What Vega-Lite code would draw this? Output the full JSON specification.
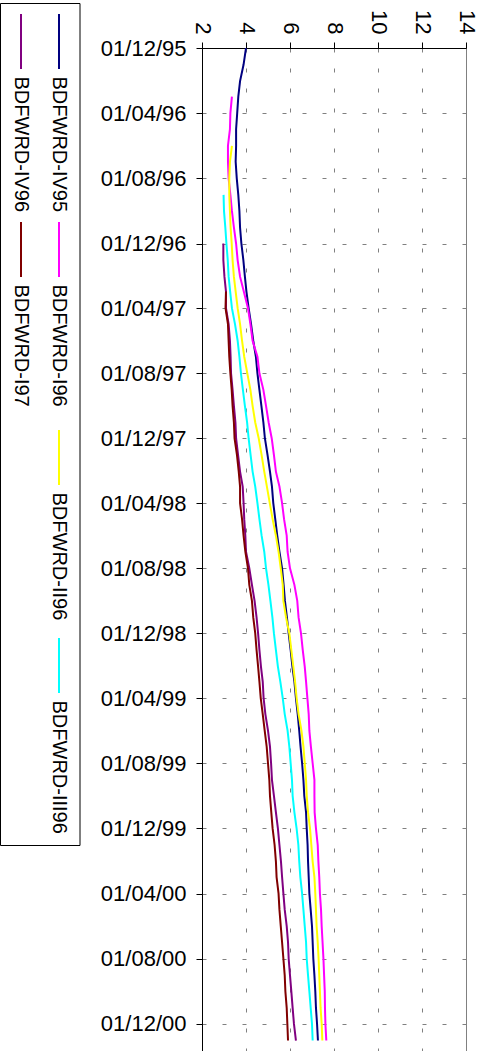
{
  "$schema": "https://vega.github.io/schema/vega-lite/v6.json",
  "padding": {"left": 0, "top": 3, "right": 0, "bottom": 0},
  "background": "white",
  "config": {"font": "Liberation Sans", "view": {"stroke": null}},
  "datasets": {
    "legend": [
      {"series": "BDFWRD-IV95"}, {"series": "BDFWRD-I96"}, {"series": "BDFWRD-II96"},
      {"series": "BDFWRD-III96"}, {"series": "BDFWRD-IV96"}, {"series": "BDFWRD-I97"}
    ],
    "rates": [
      {"series":"BDFWRD-IV95","date":"1995-12-01","value":4.0},
      {"series":"BDFWRD-IV95","date":"1996-01-01","value":3.89},
      {"series":"BDFWRD-IV95","date":"1996-02-01","value":3.73},
      {"series":"BDFWRD-IV95","date":"1996-03-01","value":3.65},
      {"series":"BDFWRD-IV95","date":"1996-04-01","value":3.6},
      {"series":"BDFWRD-IV95","date":"1996-05-01","value":3.55},
      {"series":"BDFWRD-IV95","date":"1996-06-01","value":3.55},
      {"series":"BDFWRD-IV95","date":"1996-07-01","value":3.53},
      {"series":"BDFWRD-IV95","date":"1996-08-01","value":3.58},
      {"series":"BDFWRD-IV95","date":"1996-09-01","value":3.65},
      {"series":"BDFWRD-IV95","date":"1996-10-01","value":3.7},
      {"series":"BDFWRD-IV95","date":"1996-11-01","value":3.73},
      {"series":"BDFWRD-IV95","date":"1996-12-01","value":3.79},
      {"series":"BDFWRD-IV95","date":"1997-01-01","value":3.88},
      {"series":"BDFWRD-IV95","date":"1997-02-01","value":3.95},
      {"series":"BDFWRD-IV95","date":"1997-03-01","value":4.02},
      {"series":"BDFWRD-IV95","date":"1997-04-01","value":4.12},
      {"series":"BDFWRD-IV95","date":"1997-05-01","value":4.23},
      {"series":"BDFWRD-IV95","date":"1997-06-01","value":4.33},
      {"series":"BDFWRD-IV95","date":"1997-07-01","value":4.45},
      {"series":"BDFWRD-IV95","date":"1997-08-01","value":4.52},
      {"series":"BDFWRD-IV95","date":"1997-09-01","value":4.61},
      {"series":"BDFWRD-IV95","date":"1997-10-01","value":4.7},
      {"series":"BDFWRD-IV95","date":"1997-11-01","value":4.79},
      {"series":"BDFWRD-IV95","date":"1997-12-01","value":4.86},
      {"series":"BDFWRD-IV95","date":"1998-01-01","value":4.98},
      {"series":"BDFWRD-IV95","date":"1998-02-01","value":5.09},
      {"series":"BDFWRD-IV95","date":"1998-03-01","value":5.18},
      {"series":"BDFWRD-IV95","date":"1998-04-01","value":5.24},
      {"series":"BDFWRD-IV95","date":"1998-05-01","value":5.33},
      {"series":"BDFWRD-IV95","date":"1998-06-01","value":5.42},
      {"series":"BDFWRD-IV95","date":"1998-07-01","value":5.52},
      {"series":"BDFWRD-IV95","date":"1998-08-01","value":5.64},
      {"series":"BDFWRD-IV95","date":"1998-09-01","value":5.71},
      {"series":"BDFWRD-IV95","date":"1998-10-01","value":5.77},
      {"series":"BDFWRD-IV95","date":"1998-11-01","value":5.86},
      {"series":"BDFWRD-IV95","date":"1998-12-01","value":5.94},
      {"series":"BDFWRD-IV95","date":"1999-01-01","value":6.03},
      {"series":"BDFWRD-IV95","date":"1999-02-01","value":6.11},
      {"series":"BDFWRD-IV95","date":"1999-03-01","value":6.2},
      {"series":"BDFWRD-IV95","date":"1999-04-01","value":6.27},
      {"series":"BDFWRD-IV95","date":"1999-05-01","value":6.35},
      {"series":"BDFWRD-IV95","date":"1999-06-01","value":6.42},
      {"series":"BDFWRD-IV95","date":"1999-07-01","value":6.48},
      {"series":"BDFWRD-IV95","date":"1999-08-01","value":6.55},
      {"series":"BDFWRD-IV95","date":"1999-09-01","value":6.61},
      {"series":"BDFWRD-IV95","date":"1999-10-01","value":6.65},
      {"series":"BDFWRD-IV95","date":"1999-11-01","value":6.73},
      {"series":"BDFWRD-IV95","date":"1999-12-01","value":6.76},
      {"series":"BDFWRD-IV95","date":"2000-01-01","value":6.8},
      {"series":"BDFWRD-IV95","date":"2000-02-01","value":6.82},
      {"series":"BDFWRD-IV95","date":"2000-03-01","value":6.85},
      {"series":"BDFWRD-IV95","date":"2000-04-01","value":6.88},
      {"series":"BDFWRD-IV95","date":"2000-05-01","value":6.94},
      {"series":"BDFWRD-IV95","date":"2000-06-01","value":7.0},
      {"series":"BDFWRD-IV95","date":"2000-07-01","value":7.03},
      {"series":"BDFWRD-IV95","date":"2000-08-01","value":7.06},
      {"series":"BDFWRD-IV95","date":"2000-09-01","value":7.11},
      {"series":"BDFWRD-IV95","date":"2000-10-01","value":7.15},
      {"series":"BDFWRD-IV95","date":"2000-11-01","value":7.18},
      {"series":"BDFWRD-IV95","date":"2000-12-01","value":7.23},
      {"series":"BDFWRD-IV95","date":"2001-01-01","value":7.27},

      {"series":"BDFWRD-I96","date":"1996-03-01","value":3.36},
      {"series":"BDFWRD-I96","date":"1996-04-01","value":3.29},
      {"series":"BDFWRD-I96","date":"1996-05-01","value":3.27},
      {"series":"BDFWRD-I96","date":"1996-06-01","value":3.18},
      {"series":"BDFWRD-I96","date":"1996-07-01","value":3.18},
      {"series":"BDFWRD-I96","date":"1996-08-01","value":3.21},
      {"series":"BDFWRD-I96","date":"1996-09-01","value":3.29},
      {"series":"BDFWRD-I96","date":"1996-10-01","value":3.36},
      {"series":"BDFWRD-I96","date":"1996-11-01","value":3.45},
      {"series":"BDFWRD-I96","date":"1996-12-01","value":3.55},
      {"series":"BDFWRD-I96","date":"1997-01-01","value":3.62},
      {"series":"BDFWRD-I96","date":"1997-02-01","value":3.73},
      {"series":"BDFWRD-I96","date":"1997-03-01","value":3.9},
      {"series":"BDFWRD-I96","date":"1997-04-01","value":4.09},
      {"series":"BDFWRD-I96","date":"1997-05-01","value":4.2},
      {"series":"BDFWRD-I96","date":"1997-06-01","value":4.3},
      {"series":"BDFWRD-I96","date":"1997-07-01","value":4.52},
      {"series":"BDFWRD-I96","date":"1997-08-01","value":4.61},
      {"series":"BDFWRD-I96","date":"1997-09-01","value":4.79},
      {"series":"BDFWRD-I96","date":"1997-10-01","value":4.91},
      {"series":"BDFWRD-I96","date":"1997-11-01","value":5.03},
      {"series":"BDFWRD-I96","date":"1997-12-01","value":5.17},
      {"series":"BDFWRD-I96","date":"1998-01-01","value":5.27},
      {"series":"BDFWRD-I96","date":"1998-02-01","value":5.36},
      {"series":"BDFWRD-I96","date":"1998-03-01","value":5.52},
      {"series":"BDFWRD-I96","date":"1998-04-01","value":5.64},
      {"series":"BDFWRD-I96","date":"1998-05-01","value":5.73},
      {"series":"BDFWRD-I96","date":"1998-06-01","value":5.85},
      {"series":"BDFWRD-I96","date":"1998-07-01","value":5.89},
      {"series":"BDFWRD-I96","date":"1998-08-01","value":6.0},
      {"series":"BDFWRD-I96","date":"1998-09-01","value":6.2},
      {"series":"BDFWRD-I96","date":"1998-10-01","value":6.33},
      {"series":"BDFWRD-I96","date":"1998-11-01","value":6.39},
      {"series":"BDFWRD-I96","date":"1998-12-01","value":6.5},
      {"series":"BDFWRD-I96","date":"1999-01-01","value":6.58},
      {"series":"BDFWRD-I96","date":"1999-02-01","value":6.67},
      {"series":"BDFWRD-I96","date":"1999-03-01","value":6.73},
      {"series":"BDFWRD-I96","date":"1999-04-01","value":6.79},
      {"series":"BDFWRD-I96","date":"1999-05-01","value":6.85},
      {"series":"BDFWRD-I96","date":"1999-06-01","value":6.88},
      {"series":"BDFWRD-I96","date":"1999-07-01","value":6.95},
      {"series":"BDFWRD-I96","date":"1999-08-01","value":7.03},
      {"series":"BDFWRD-I96","date":"1999-09-01","value":7.11},
      {"series":"BDFWRD-I96","date":"1999-10-01","value":7.11},
      {"series":"BDFWRD-I96","date":"1999-11-01","value":7.12},
      {"series":"BDFWRD-I96","date":"1999-12-01","value":7.18},
      {"series":"BDFWRD-I96","date":"2000-01-01","value":7.26},
      {"series":"BDFWRD-I96","date":"2000-02-01","value":7.29},
      {"series":"BDFWRD-I96","date":"2000-03-01","value":7.33},
      {"series":"BDFWRD-I96","date":"2000-04-01","value":7.36},
      {"series":"BDFWRD-I96","date":"2000-05-01","value":7.41},
      {"series":"BDFWRD-I96","date":"2000-06-01","value":7.44},
      {"series":"BDFWRD-I96","date":"2000-07-01","value":7.48},
      {"series":"BDFWRD-I96","date":"2000-08-01","value":7.52},
      {"series":"BDFWRD-I96","date":"2000-09-01","value":7.55},
      {"series":"BDFWRD-I96","date":"2000-10-01","value":7.58},
      {"series":"BDFWRD-I96","date":"2000-11-01","value":7.59},
      {"series":"BDFWRD-I96","date":"2000-12-01","value":7.61},
      {"series":"BDFWRD-I96","date":"2001-01-01","value":7.65},

      {"series":"BDFWRD-II96","date":"1996-06-01","value":3.36},
      {"series":"BDFWRD-II96","date":"1996-07-01","value":3.27},
      {"series":"BDFWRD-II96","date":"1996-08-01","value":3.24},
      {"series":"BDFWRD-II96","date":"1996-09-01","value":3.24},
      {"series":"BDFWRD-II96","date":"1996-10-01","value":3.27},
      {"series":"BDFWRD-II96","date":"1996-11-01","value":3.3},
      {"series":"BDFWRD-II96","date":"1996-12-01","value":3.35},
      {"series":"BDFWRD-II96","date":"1997-01-01","value":3.39},
      {"series":"BDFWRD-II96","date":"1997-02-01","value":3.45},
      {"series":"BDFWRD-II96","date":"1997-03-01","value":3.53},
      {"series":"BDFWRD-II96","date":"1997-04-01","value":3.62},
      {"series":"BDFWRD-II96","date":"1997-05-01","value":3.73},
      {"series":"BDFWRD-II96","date":"1997-06-01","value":3.82},
      {"series":"BDFWRD-II96","date":"1997-07-01","value":3.92},
      {"series":"BDFWRD-II96","date":"1997-08-01","value":4.06},
      {"series":"BDFWRD-II96","date":"1997-09-01","value":4.2},
      {"series":"BDFWRD-II96","date":"1997-10-01","value":4.3},
      {"series":"BDFWRD-II96","date":"1997-11-01","value":4.42},
      {"series":"BDFWRD-II96","date":"1997-12-01","value":4.58},
      {"series":"BDFWRD-II96","date":"1998-01-01","value":4.71},
      {"series":"BDFWRD-II96","date":"1998-02-01","value":4.83},
      {"series":"BDFWRD-II96","date":"1998-03-01","value":4.95},
      {"series":"BDFWRD-II96","date":"1998-04-01","value":5.08},
      {"series":"BDFWRD-II96","date":"1998-05-01","value":5.21},
      {"series":"BDFWRD-II96","date":"1998-06-01","value":5.36},
      {"series":"BDFWRD-II96","date":"1998-07-01","value":5.48},
      {"series":"BDFWRD-II96","date":"1998-08-01","value":5.58},
      {"series":"BDFWRD-II96","date":"1998-09-01","value":5.67},
      {"series":"BDFWRD-II96","date":"1998-10-01","value":5.7},
      {"series":"BDFWRD-II96","date":"1998-11-01","value":5.82},
      {"series":"BDFWRD-II96","date":"1998-12-01","value":5.97},
      {"series":"BDFWRD-II96","date":"1999-01-01","value":6.06},
      {"series":"BDFWRD-II96","date":"1999-02-01","value":6.15},
      {"series":"BDFWRD-II96","date":"1999-03-01","value":6.23},
      {"series":"BDFWRD-II96","date":"1999-04-01","value":6.3},
      {"series":"BDFWRD-II96","date":"1999-05-01","value":6.39},
      {"series":"BDFWRD-II96","date":"1999-06-01","value":6.52},
      {"series":"BDFWRD-II96","date":"1999-07-01","value":6.61},
      {"series":"BDFWRD-II96","date":"1999-08-01","value":6.67},
      {"series":"BDFWRD-II96","date":"1999-09-01","value":6.73},
      {"series":"BDFWRD-II96","date":"1999-10-01","value":6.76},
      {"series":"BDFWRD-II96","date":"1999-11-01","value":6.82},
      {"series":"BDFWRD-II96","date":"1999-12-01","value":6.91},
      {"series":"BDFWRD-II96","date":"2000-01-01","value":6.97},
      {"series":"BDFWRD-II96","date":"2000-02-01","value":7.03},
      {"series":"BDFWRD-II96","date":"2000-03-01","value":7.11},
      {"series":"BDFWRD-II96","date":"2000-04-01","value":7.15},
      {"series":"BDFWRD-II96","date":"2000-05-01","value":7.18},
      {"series":"BDFWRD-II96","date":"2000-06-01","value":7.21},
      {"series":"BDFWRD-II96","date":"2000-07-01","value":7.26},
      {"series":"BDFWRD-II96","date":"2000-08-01","value":7.3},
      {"series":"BDFWRD-II96","date":"2000-09-01","value":7.33},
      {"series":"BDFWRD-II96","date":"2000-10-01","value":7.36},
      {"series":"BDFWRD-II96","date":"2000-11-01","value":7.39},
      {"series":"BDFWRD-II96","date":"2000-12-01","value":7.44},
      {"series":"BDFWRD-II96","date":"2001-01-01","value":7.47},

      {"series":"BDFWRD-III96","date":"1996-09-01","value":2.98},
      {"series":"BDFWRD-III96","date":"1996-10-01","value":3.0},
      {"series":"BDFWRD-III96","date":"1996-11-01","value":3.06},
      {"series":"BDFWRD-III96","date":"1996-12-01","value":3.11},
      {"series":"BDFWRD-III96","date":"1997-01-01","value":3.17},
      {"series":"BDFWRD-III96","date":"1997-02-01","value":3.21},
      {"series":"BDFWRD-III96","date":"1997-03-01","value":3.28},
      {"series":"BDFWRD-III96","date":"1997-04-01","value":3.36},
      {"series":"BDFWRD-III96","date":"1997-05-01","value":3.5},
      {"series":"BDFWRD-III96","date":"1997-06-01","value":3.62},
      {"series":"BDFWRD-III96","date":"1997-07-01","value":3.7},
      {"series":"BDFWRD-III96","date":"1997-08-01","value":3.77},
      {"series":"BDFWRD-III96","date":"1997-09-01","value":3.86},
      {"series":"BDFWRD-III96","date":"1997-10-01","value":3.95},
      {"series":"BDFWRD-III96","date":"1997-11-01","value":4.05},
      {"series":"BDFWRD-III96","date":"1997-12-01","value":4.12},
      {"series":"BDFWRD-III96","date":"1998-01-01","value":4.21},
      {"series":"BDFWRD-III96","date":"1998-02-01","value":4.3},
      {"series":"BDFWRD-III96","date":"1998-03-01","value":4.42},
      {"series":"BDFWRD-III96","date":"1998-04-01","value":4.52},
      {"series":"BDFWRD-III96","date":"1998-05-01","value":4.61},
      {"series":"BDFWRD-III96","date":"1998-06-01","value":4.71},
      {"series":"BDFWRD-III96","date":"1998-07-01","value":4.83},
      {"series":"BDFWRD-III96","date":"1998-08-01","value":4.91},
      {"series":"BDFWRD-III96","date":"1998-09-01","value":5.02},
      {"series":"BDFWRD-III96","date":"1998-10-01","value":5.11},
      {"series":"BDFWRD-III96","date":"1998-11-01","value":5.2},
      {"series":"BDFWRD-III96","date":"1998-12-01","value":5.27},
      {"series":"BDFWRD-III96","date":"1999-01-01","value":5.36},
      {"series":"BDFWRD-III96","date":"1999-02-01","value":5.45},
      {"series":"BDFWRD-III96","date":"1999-03-01","value":5.56},
      {"series":"BDFWRD-III96","date":"1999-04-01","value":5.67},
      {"series":"BDFWRD-III96","date":"1999-05-01","value":5.76},
      {"series":"BDFWRD-III96","date":"1999-06-01","value":5.89},
      {"series":"BDFWRD-III96","date":"1999-07-01","value":5.97},
      {"series":"BDFWRD-III96","date":"1999-08-01","value":6.03},
      {"series":"BDFWRD-III96","date":"1999-09-01","value":6.09},
      {"series":"BDFWRD-III96","date":"1999-10-01","value":6.12},
      {"series":"BDFWRD-III96","date":"1999-11-01","value":6.2},
      {"series":"BDFWRD-III96","date":"1999-12-01","value":6.3},
      {"series":"BDFWRD-III96","date":"2000-01-01","value":6.38},
      {"series":"BDFWRD-III96","date":"2000-02-01","value":6.42},
      {"series":"BDFWRD-III96","date":"2000-03-01","value":6.47},
      {"series":"BDFWRD-III96","date":"2000-04-01","value":6.55},
      {"series":"BDFWRD-III96","date":"2000-05-01","value":6.61},
      {"series":"BDFWRD-III96","date":"2000-06-01","value":6.67},
      {"series":"BDFWRD-III96","date":"2000-07-01","value":6.73},
      {"series":"BDFWRD-III96","date":"2000-08-01","value":6.76},
      {"series":"BDFWRD-III96","date":"2000-09-01","value":6.82},
      {"series":"BDFWRD-III96","date":"2000-10-01","value":6.88},
      {"series":"BDFWRD-III96","date":"2000-11-01","value":6.94},
      {"series":"BDFWRD-III96","date":"2000-12-01","value":7.0},
      {"series":"BDFWRD-III96","date":"2001-01-01","value":7.03},

      {"series":"BDFWRD-IV96","date":"1996-12-01","value":2.97},
      {"series":"BDFWRD-IV96","date":"1997-01-01","value":2.97},
      {"series":"BDFWRD-IV96","date":"1997-02-01","value":3.02},
      {"series":"BDFWRD-IV96","date":"1997-03-01","value":3.09},
      {"series":"BDFWRD-IV96","date":"1997-04-01","value":3.09},
      {"series":"BDFWRD-IV96","date":"1997-05-01","value":3.21},
      {"series":"BDFWRD-IV96","date":"1997-06-01","value":3.27},
      {"series":"BDFWRD-IV96","date":"1997-07-01","value":3.3},
      {"series":"BDFWRD-IV96","date":"1997-08-01","value":3.32},
      {"series":"BDFWRD-IV96","date":"1997-09-01","value":3.39},
      {"series":"BDFWRD-IV96","date":"1997-10-01","value":3.45},
      {"series":"BDFWRD-IV96","date":"1997-11-01","value":3.52},
      {"series":"BDFWRD-IV96","date":"1997-12-01","value":3.55},
      {"series":"BDFWRD-IV96","date":"1998-01-01","value":3.64},
      {"series":"BDFWRD-IV96","date":"1998-02-01","value":3.73},
      {"series":"BDFWRD-IV96","date":"1998-03-01","value":3.85},
      {"series":"BDFWRD-IV96","date":"1998-04-01","value":3.89},
      {"series":"BDFWRD-IV96","date":"1998-05-01","value":3.92},
      {"series":"BDFWRD-IV96","date":"1998-06-01","value":3.97},
      {"series":"BDFWRD-IV96","date":"1998-07-01","value":4.0},
      {"series":"BDFWRD-IV96","date":"1998-08-01","value":4.15},
      {"series":"BDFWRD-IV96","date":"1998-09-01","value":4.27},
      {"series":"BDFWRD-IV96","date":"1998-10-01","value":4.39},
      {"series":"BDFWRD-IV96","date":"1998-11-01","value":4.48},
      {"series":"BDFWRD-IV96","date":"1998-12-01","value":4.55},
      {"series":"BDFWRD-IV96","date":"1999-01-01","value":4.61},
      {"series":"BDFWRD-IV96","date":"1999-02-01","value":4.68},
      {"series":"BDFWRD-IV96","date":"1999-03-01","value":4.76},
      {"series":"BDFWRD-IV96","date":"1999-04-01","value":4.8},
      {"series":"BDFWRD-IV96","date":"1999-05-01","value":4.88},
      {"series":"BDFWRD-IV96","date":"1999-06-01","value":5.0},
      {"series":"BDFWRD-IV96","date":"1999-07-01","value":5.09},
      {"series":"BDFWRD-IV96","date":"1999-08-01","value":5.14},
      {"series":"BDFWRD-IV96","date":"1999-09-01","value":5.18},
      {"series":"BDFWRD-IV96","date":"1999-10-01","value":5.27},
      {"series":"BDFWRD-IV96","date":"1999-11-01","value":5.36},
      {"series":"BDFWRD-IV96","date":"1999-12-01","value":5.45},
      {"series":"BDFWRD-IV96","date":"2000-01-01","value":5.52},
      {"series":"BDFWRD-IV96","date":"2000-02-01","value":5.59},
      {"series":"BDFWRD-IV96","date":"2000-03-01","value":5.64},
      {"series":"BDFWRD-IV96","date":"2000-04-01","value":5.7},
      {"series":"BDFWRD-IV96","date":"2000-05-01","value":5.76},
      {"series":"BDFWRD-IV96","date":"2000-06-01","value":5.85},
      {"series":"BDFWRD-IV96","date":"2000-07-01","value":5.91},
      {"series":"BDFWRD-IV96","date":"2000-08-01","value":5.94},
      {"series":"BDFWRD-IV96","date":"2000-09-01","value":6.0},
      {"series":"BDFWRD-IV96","date":"2000-10-01","value":6.06},
      {"series":"BDFWRD-IV96","date":"2000-11-01","value":6.12},
      {"series":"BDFWRD-IV96","date":"2000-12-01","value":6.18},
      {"series":"BDFWRD-IV96","date":"2001-01-01","value":6.27},

      {"series":"BDFWRD-I97","date":"1997-03-01","value":3.09},
      {"series":"BDFWRD-I97","date":"1997-04-01","value":3.07},
      {"series":"BDFWRD-I97","date":"1997-05-01","value":3.18},
      {"series":"BDFWRD-I97","date":"1997-06-01","value":3.21},
      {"series":"BDFWRD-I97","date":"1997-07-01","value":3.24},
      {"series":"BDFWRD-I97","date":"1997-08-01","value":3.29},
      {"series":"BDFWRD-I97","date":"1997-09-01","value":3.35},
      {"series":"BDFWRD-I97","date":"1997-10-01","value":3.39},
      {"series":"BDFWRD-I97","date":"1997-11-01","value":3.45},
      {"series":"BDFWRD-I97","date":"1997-12-01","value":3.48},
      {"series":"BDFWRD-I97","date":"1998-01-01","value":3.59},
      {"series":"BDFWRD-I97","date":"1998-02-01","value":3.67},
      {"series":"BDFWRD-I97","date":"1998-03-01","value":3.73},
      {"series":"BDFWRD-I97","date":"1998-04-01","value":3.73},
      {"series":"BDFWRD-I97","date":"1998-05-01","value":3.82},
      {"series":"BDFWRD-I97","date":"1998-06-01","value":3.89},
      {"series":"BDFWRD-I97","date":"1998-07-01","value":3.97},
      {"series":"BDFWRD-I97","date":"1998-08-01","value":4.09},
      {"series":"BDFWRD-I97","date":"1998-09-01","value":4.15},
      {"series":"BDFWRD-I97","date":"1998-10-01","value":4.27},
      {"series":"BDFWRD-I97","date":"1998-11-01","value":4.33},
      {"series":"BDFWRD-I97","date":"1998-12-01","value":4.42},
      {"series":"BDFWRD-I97","date":"1999-01-01","value":4.48},
      {"series":"BDFWRD-I97","date":"1999-02-01","value":4.55},
      {"series":"BDFWRD-I97","date":"1999-03-01","value":4.61},
      {"series":"BDFWRD-I97","date":"1999-04-01","value":4.67},
      {"series":"BDFWRD-I97","date":"1999-05-01","value":4.76},
      {"series":"BDFWRD-I97","date":"1999-06-01","value":4.85},
      {"series":"BDFWRD-I97","date":"1999-07-01","value":4.94},
      {"series":"BDFWRD-I97","date":"1999-08-01","value":5.0},
      {"series":"BDFWRD-I97","date":"1999-09-01","value":5.06},
      {"series":"BDFWRD-I97","date":"1999-10-01","value":5.09},
      {"series":"BDFWRD-I97","date":"1999-11-01","value":5.15},
      {"series":"BDFWRD-I97","date":"1999-12-01","value":5.21},
      {"series":"BDFWRD-I97","date":"2000-01-01","value":5.3},
      {"series":"BDFWRD-I97","date":"2000-02-01","value":5.36},
      {"series":"BDFWRD-I97","date":"2000-03-01","value":5.39},
      {"series":"BDFWRD-I97","date":"2000-04-01","value":5.48},
      {"series":"BDFWRD-I97","date":"2000-05-01","value":5.52},
      {"series":"BDFWRD-I97","date":"2000-06-01","value":5.58},
      {"series":"BDFWRD-I97","date":"2000-07-01","value":5.64},
      {"series":"BDFWRD-I97","date":"2000-08-01","value":5.7},
      {"series":"BDFWRD-I97","date":"2000-09-01","value":5.76},
      {"series":"BDFWRD-I97","date":"2000-10-01","value":5.79},
      {"series":"BDFWRD-I97","date":"2000-11-01","value":5.85},
      {"series":"BDFWRD-I97","date":"2000-12-01","value":5.88},
      {"series":"BDFWRD-I97","date":"2001-01-01","value":5.91}
    ]
  },
  "spacing": 18,
  "hconcat": [
    {
      "width": 80,
      "height": 797,
      "data": {"name": "legend"},
      "layer": [
        {
          "data": {"values": [{"frame": "legend"}]},
          "mark": {"type": "rect", "filled": false, "stroke": "black", "strokeWidth": 1},
          "encoding": {"x": {"value": 0.5}, "x2": {"value": 80}, "y": {"value": -44.5}, "y2": {"value": 797.5}}
        },
        {
          "transform": [{"filter": {"field": "series", "oneOf": ["BDFWRD-IV95", "BDFWRD-I96", "BDFWRD-II96", "BDFWRD-III96"]}}],
          "encoding": {
            "x": {"datum": "first", "type": "nominal", "scale": {"type": "point", "domain": ["second", "first"], "padding": 0.553}, "axis": null},
            "y": {"field": "series", "type": "nominal", "scale": {"type": "point", "domain": ["BDFWRD-IV95", "BDFWRD-I96", "BDFWRD-II96", "BDFWRD-III96"], "range": [-6.5, 617.5], "padding": 0}, "axis": null},
            "color": {"field": "series", "type": "nominal", "scale": {"domain": ["BDFWRD-IV95", "BDFWRD-I96", "BDFWRD-II96", "BDFWRD-III96", "BDFWRD-IV96", "BDFWRD-I97"], "range": ["#000080", "#FF00FF", "#FFFF00", "#00FFFF", "#800080", "#800000"]}, "legend": null}
          },
          "layer": [
            {"mark": {"type": "tick", "orient": "vertical", "size": 55, "thickness": 2, "opacity": 1}},
            {"mark": {"type": "text", "angle": 90, "align": "left", "baseline": "middle", "dx": 35, "fontSize": 20, "font": "Liberation Sans"},
             "encoding": {"text": {"field": "series"}, "color": {"value": "black"}}}
          ]
        },
        {
          "transform": [{"filter": {"field": "series", "oneOf": ["BDFWRD-IV96", "BDFWRD-I97"]}}],
          "encoding": {
            "x": {"datum": "second", "type": "nominal", "scale": {"type": "point", "domain": ["second", "first"], "padding": 0.553}, "axis": null},
            "y": {"field": "series", "type": "nominal", "scale": {"type": "point", "domain": ["BDFWRD-IV96", "BDFWRD-I97"], "range": [-6.5, 201.5], "padding": 0}, "axis": null},
            "color": {"field": "series", "type": "nominal", "scale": {"domain": ["BDFWRD-IV95", "BDFWRD-I96", "BDFWRD-II96", "BDFWRD-III96", "BDFWRD-IV96", "BDFWRD-I97"], "range": ["#000080", "#FF00FF", "#FFFF00", "#00FFFF", "#800080", "#800000"]}, "legend": null}
          },
          "layer": [
            {"mark": {"type": "tick", "orient": "vertical", "size": 55, "thickness": 2, "opacity": 1}},
            {"mark": {"type": "text", "angle": 90, "align": "left", "baseline": "middle", "dx": 35, "fontSize": 20, "font": "Liberation Sans"},
             "encoding": {"text": {"field": "series"}, "color": {"value": "black"}}}
          ]
        }
      ],
      "resolve": {"scale": {"y": "independent"}}
    },
    {
      "width": 264,
      "height": 1008,
      "view": {"stroke": "#808080", "strokeWidth": 1},
      "data": {"name": "rates"},
      "mark": {"type": "line", "strokeWidth": 2, "clip": true},
      "encoding": {
        "x": {
          "field": "value", "type": "quantitative",
          "scale": {"domain": [2, 14], "nice": false, "zero": false},
          "axis": {
            "orient": "top", "values": [2, 4, 6, 8, 10, 12, 14], "labelAngle": 90,
            "labelFont": "Liberation Sans", "labelFontSize": 22, "labelColor": "black", "labelPadding": 8,
            "labelOverlap": false, "labelFlush": false,
            "tickSize": 6, "tickColor": "black", "domainColor": "black",
            "grid": true, "gridColor": "#808080", "gridDash": [4, 16], "gridWidth": 1,
            "title": " ", "titleFontSize": 2, "titlePadding": 4
          }
        },
        "y": {
          "field": "date", "type": "temporal",
          "scale": {"type": "utc", "reverse": true, "domain": [{"year": 1995, "month": 12, "date": 1, "utc": true}, {"year": 2001, "month": 1, "date": 30, "utc": true}]},
          "axis": {
            "values": [
              {"year": 1995, "month": 12, "date": 1, "utc": true},
              {"year": 1996, "month": 4, "date": 1, "utc": true},
              {"year": 1996, "month": 8, "date": 1, "utc": true},
              {"year": 1996, "month": 12, "date": 1, "utc": true},
              {"year": 1997, "month": 4, "date": 1, "utc": true},
              {"year": 1997, "month": 8, "date": 1, "utc": true},
              {"year": 1997, "month": 12, "date": 1, "utc": true},
              {"year": 1998, "month": 4, "date": 1, "utc": true},
              {"year": 1998, "month": 8, "date": 1, "utc": true},
              {"year": 1998, "month": 12, "date": 1, "utc": true},
              {"year": 1999, "month": 4, "date": 1, "utc": true},
              {"year": 1999, "month": 8, "date": 1, "utc": true},
              {"year": 1999, "month": 12, "date": 1, "utc": true},
              {"year": 2000, "month": 4, "date": 1, "utc": true},
              {"year": 2000, "month": 8, "date": 1, "utc": true},
              {"year": 2000, "month": 12, "date": 1, "utc": true}
            ],
            "format": "%d/%m/%y",
            "labelFont": "Liberation Sans", "labelFontSize": 22, "labelColor": "black", "labelPadding": 10,
            "labelOverlap": false, "labelFlush": false,
            "tickSize": 6, "tickColor": "black", "domainColor": "black",
            "grid": true, "gridColor": "#808080", "gridDash": [4, 16], "gridWidth": 1,
            "title": null
          }
        },
        "color": {"field": "series", "type": "nominal", "scale": {"domain": ["BDFWRD-IV95", "BDFWRD-I96", "BDFWRD-II96", "BDFWRD-III96", "BDFWRD-IV96", "BDFWRD-I97"], "range": ["#000080", "#FF00FF", "#FFFF00", "#00FFFF", "#800080", "#800000"]}, "legend": null},
        "order": {"field": "date", "type": "temporal"}
      }
    }
  ]
}
